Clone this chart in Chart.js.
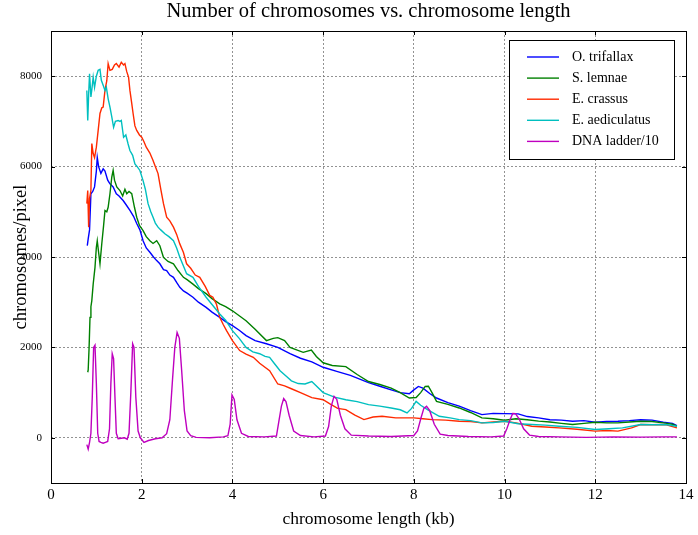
<!DOCTYPE html>
<html>
<head>
<meta charset="utf-8">
<script src="https://cdn.jsdelivr.net/npm/chart.js@4"></script>
<style>
  body { margin: 0; background: #fff; }
</style>
</head>
<body>
<canvas id="myChart" width="698" height="535"></canvas>
<script>
// chromosome length (kb) / chromosomes per pixel
const blueX = [0.80,0.82,0.85,0.88,0.92,0.96,1.00,1.02,1.05,1.10,1.15,1.19,1.25,1.30,1.37,1.44,1.50,1.59,1.66,1.74,1.82,1.89,1.96,2.03,2.10,2.18,2.26,2.33,2.40,2.48,2.55,2.62,2.70,2.78,2.84,2.92,3.00,3.13,3.25,3.42,3.55,3.72,3.85,4.00,4.15,4.30,4.50,4.75,5.00,5.27,5.50,5.75,6.00,6.30,6.60,7.00,7.25,7.50,7.70,7.90,8.00,8.10,8.20,8.35,8.50,8.75,9.00,9.25,9.50,9.75,10.00,10.30,10.50,10.75,11.00,11.25,11.50,11.75,12.00,12.25,12.50,12.75,13.00,13.25,13.50,13.70,13.80];
const blueY = [4250,4400,4600,5400,5450,5550,5900,6200,6000,5850,5950,5900,5700,5620,5550,5400,5350,5250,5150,5030,4900,4740,4600,4360,4200,4105,4000,3920,3850,3720,3700,3600,3550,3420,3330,3250,3200,3110,3000,2885,2780,2665,2570,2480,2380,2260,2150,2080,2000,1860,1760,1680,1560,1470,1380,1220,1140,1060,1000,975,1060,1136,1100,980,880,780,700,600,513,540,535,530,470,440,400,390,367,380,345,360,367,380,400,390,345,320,270];

const greenX = [0.81,0.82,0.84,0.86,0.88,0.90,0.93,0.97,1.00,1.02,1.05,1.08,1.12,1.16,1.19,1.23,1.26,1.30,1.34,1.37,1.40,1.45,1.52,1.58,1.63,1.67,1.72,1.78,1.84,1.89,1.95,2.03,2.10,2.18,2.25,2.33,2.40,2.48,2.58,2.70,2.80,2.92,3.00,3.13,3.25,3.42,3.55,3.72,3.85,4.00,4.15,4.30,4.50,4.75,4.90,5.00,5.15,5.27,5.40,5.56,5.74,5.85,6.00,6.20,6.50,6.75,7.00,7.25,7.50,7.70,7.90,8.05,8.15,8.25,8.32,8.40,8.50,8.75,9.00,9.25,9.50,9.75,10.00,10.25,10.50,10.75,11.00,11.25,11.50,11.75,12.00,12.25,12.50,12.75,13.00,13.25,13.50,13.70,13.80];
const greenY = [1450,1500,2000,2665,2900,3035,3400,3770,4215,4360,4100,3850,4300,4700,5030,5000,5100,5400,5765,5915,5700,5550,5470,5350,5500,5400,5450,5400,5100,4880,4700,4585,4450,4360,4300,4360,4250,3990,3900,3850,3700,3550,3500,3400,3300,3190,3080,2965,2900,2810,2700,2590,2400,2150,2200,2215,2150,2000,1950,1890,1940,1800,1660,1600,1576,1400,1246,1180,1100,1000,880,890,1000,1136,1140,1000,806,740,660,560,440,420,388,420,400,370,350,320,293,320,345,330,330,350,367,360,330,300,257];

const redX = [0.79,0.81,0.83,0.85,0.88,0.90,0.93,0.96,1.00,1.04,1.08,1.12,1.15,1.19,1.23,1.26,1.30,1.35,1.40,1.44,1.50,1.55,1.60,1.63,1.67,1.71,1.74,1.78,1.81,1.85,1.89,1.95,2.00,2.05,2.10,2.18,2.25,2.30,2.36,2.42,2.48,2.55,2.62,2.70,2.77,2.84,2.92,2.99,3.08,3.18,3.28,3.40,3.50,3.57,3.65,3.72,3.80,3.87,4.00,4.16,4.30,4.46,4.60,4.82,5.00,5.15,5.30,5.50,5.75,6.00,6.15,6.32,6.50,6.70,6.90,7.10,7.30,7.60,8.00,8.20,8.40,8.70,9.00,9.25,9.50,9.75,10.00,10.25,10.60,10.90,11.20,11.60,12.00,12.25,12.50,12.80,13.00,13.25,13.55,13.80];
const redY = [5180,5470,4660,5300,5470,6510,6290,6200,6430,6800,7175,7300,7315,7685,7900,8280,8130,8150,8250,8280,8200,8310,8250,8280,8100,7980,7685,7400,7175,6900,6800,6700,6650,6550,6430,6300,6135,6000,5845,5500,5180,4880,4800,4660,4500,4290,4100,3850,3750,3600,3550,3350,3150,3110,2950,2665,2500,2370,2150,1930,1850,1780,1650,1485,1190,1150,1085,1000,890,843,750,650,623,500,403,460,476,440,440,420,403,390,367,360,330,350,367,330,257,240,220,190,147,160,147,220,293,290,293,220];

const cyanX = [0.79,0.81,0.83,0.85,0.88,0.90,0.93,0.96,1.00,1.04,1.08,1.11,1.15,1.19,1.22,1.26,1.30,1.34,1.38,1.42,1.48,1.52,1.55,1.60,1.65,1.70,1.74,1.80,1.85,1.90,1.96,2.03,2.08,2.14,2.20,2.25,2.30,2.36,2.42,2.51,2.60,2.70,2.77,2.84,2.92,2.99,3.13,3.25,3.42,3.55,3.72,3.85,4.00,4.15,4.30,4.45,4.60,4.72,4.82,4.92,5.05,5.20,5.30,5.45,5.60,5.75,6.00,6.25,6.50,6.75,7.00,7.25,7.50,7.70,7.85,7.95,8.05,8.15,8.30,8.56,8.80,9.00,9.25,9.50,9.75,10.00,10.30,10.60,10.90,11.20,11.60,12.00,12.30,12.60,13.00,13.30,13.55,13.80];
const cyanY = [7685,7020,7600,8055,7540,7700,7980,7750,8000,8130,8150,7910,7800,7685,7760,7500,7315,7100,6870,7000,7020,7000,7020,6650,6700,6500,6355,6250,6060,6000,5915,5690,5500,5180,5000,4880,4750,4660,4600,4515,4450,4360,4200,3995,3800,3630,3550,3350,3110,2950,2740,2600,2370,2200,2000,1900,1860,1800,1780,1650,1485,1350,1260,1200,1190,1246,1000,900,843,800,733,700,660,620,550,650,806,720,623,476,440,403,380,330,340,367,310,293,280,257,230,183,200,220,293,290,293,257];

const ladderX = [0.79,0.82,0.85,0.88,0.91,0.94,0.97,1.00,1.03,1.06,1.10,1.15,1.20,1.25,1.29,1.32,1.35,1.38,1.41,1.44,1.48,1.55,1.62,1.68,1.72,1.76,1.80,1.83,1.87,1.92,1.97,2.05,2.15,2.30,2.45,2.55,2.62,2.68,2.73,2.78,2.83,2.88,2.94,3.00,3.08,3.20,3.50,3.80,3.90,3.95,3.99,4.04,4.10,4.20,4.35,4.70,4.97,5.03,5.08,5.13,5.18,5.25,5.35,5.50,5.80,6.05,6.12,6.18,6.24,6.30,6.38,6.48,6.62,7.00,7.50,8.00,8.08,8.16,8.22,8.28,8.35,8.45,8.58,8.75,9.20,9.70,9.98,10.05,10.12,10.18,10.24,10.32,10.42,10.55,10.75,11.20,11.80,12.40,13.00,13.50,13.80];
const ladderY = [-150,-250,-100,100,900,2000,2050,1200,100,-80,-100,-120,-100,-80,200,1200,1860,1750,900,100,-20,-10,0,-30,100,1000,2080,2000,900,150,0,-100,-60,-20,0,90,400,1300,2000,2330,2200,1500,600,150,45,10,0,20,45,300,950,850,400,100,30,20,40,400,700,870,800,500,150,50,20,40,250,700,916,850,500,200,58,40,30,50,150,450,650,696,600,300,80,50,30,20,40,200,400,540,535,420,200,60,30,20,10,20,15,20,20];

const seriesLabels = ["O. trifallax", "S. lemnae", "E. crassus", "E. aediculatus", "DNA ladder/10"];
const xTicks = [0, 2, 4, 6, 8, 10, 12, 14];
const yTicks = [0, 2000, 4000, 6000, 8000];

const colors = ["#0000ff", "#008000", "#ff2a00", "#00bfbf", "#bf00bf"];
const SERIF = "'Liberation Serif', 'DejaVu Serif', serif";

function pts(xs, ys) {
	return xs.map((x, i) => ({x: x, y: ys[i]}));
}

const allX = [blueX, greenX, redX, cyanX, ladderX];
const allY = [blueY, greenY, redY, cyanY, ladderY];

const datasets = seriesLabels.map((label, i) => ({
	label: label,
	data: pts(allX[i], allY[i]),
	borderColor: colors[i],
	backgroundColor: colors[i],
	borderWidth: 1.4,
	pointRadius: 0,
	tension: 0,
	fill: false,
	order: 5 - i,
}));

// frame with inward ticks, plus the title centred over the plot
const framePlugin = {
	id: "frame",
	afterDatasetsDraw(chart) {
		const {ctx, chartArea: a, scales} = chart;
		ctx.save();
		ctx.setLineDash([]);
		ctx.strokeStyle = "#000";
		ctx.lineWidth = 1;
		ctx.strokeRect(a.left + 0.5, a.top + 0.5, a.right - a.left, a.bottom - a.top);
		const len = 4;
		ctx.beginPath();
		xTicks.forEach(v => {
			const px = Math.round(scales.x.getPixelForValue(v)) + 0.5;
			ctx.moveTo(px, a.bottom); ctx.lineTo(px, a.bottom - len);
			ctx.moveTo(px, a.top); ctx.lineTo(px, a.top + len);
		});
		yTicks.forEach(v => {
			const py = Math.round(scales.y.getPixelForValue(v)) + 0.5;
			ctx.moveTo(a.left, py); ctx.lineTo(a.left + len, py);
			ctx.moveTo(a.right, py); ctx.lineTo(a.right - len, py);
		});
		ctx.stroke();

		ctx.fillStyle = "#000";
		ctx.font = "20.5px " + SERIF;
		ctx.textAlign = "center";
		ctx.textBaseline = "middle";
		ctx.fillText("Number of chromosomes vs. chromosome length", (a.left + a.right) / 2, 12);
		ctx.restore();
	}
};

// legend box inside the plot, upper right
const boxLegend = {
	id: "boxLegend",
	afterDraw(chart) {
		const ctx = chart.ctx;
		const x0 = 509.5, y0 = 40.5, w = 165, h = 119;
		ctx.save();
		ctx.setLineDash([]);
		ctx.fillStyle = "#fff";
		ctx.fillRect(x0, y0, w, h);
		ctx.strokeStyle = "#000";
		ctx.lineWidth = 1;
		ctx.strokeRect(x0, y0, w, h);
		ctx.font = "14px " + SERIF;
		ctx.textBaseline = "middle";
		chart.data.datasets.forEach((ds, i) => {
			const y = 57 + i * 21.1;
			ctx.strokeStyle = ds.borderColor;
			ctx.lineWidth = 1.4;
			ctx.beginPath();
			ctx.moveTo(527, y); ctx.lineTo(559, y);
			ctx.stroke();
			ctx.fillStyle = "#000";
			ctx.fillText(ds.label, 572, y);
		});
		ctx.restore();
	}
};

const ctx = document.getElementById("myChart").getContext("2d");

new Chart(ctx, {
	type: "line",
	data: {datasets: datasets},
	options: {
		responsive: false,
		animation: false,
		layout: {padding: {left: 0, right: 12, top: 31, bottom: 0}},
		plugins: {
			legend: {display: false},
			tooltip: {enabled: false},
		},
		scales: {
			x: {
				type: "linear",
				min: 0,
				max: 14,
				afterBuildTicks: s => { s.ticks = xTicks.map(v => ({value: v})); },
				afterFit: s => { s.height = 52; },
				ticks: {color: "#000", font: {family: SERIF, size: 15}, padding: 3, maxRotation: 0},
				grid: {color: "#777", lineWidth: 0.8, tickLength: 0, drawTicks: false},
				border: {display: false, dash: [2, 2]},
				title: {
					display: true,
					text: "chromosome length (kb)",
					color: "#000",
					font: {family: SERIF, size: 17.5},
					padding: {top: 0, bottom: 5},
				},
			},
			y: {
				type: "linear",
				min: -1000,
				max: 9000,
				afterBuildTicks: s => { s.ticks = yTicks.map(v => ({value: v})); },
				afterFit: s => { s.width = 51; },
				ticks: {color: "#000", font: {family: SERIF, size: 11}, padding: 9, callback: v => String(v)},
				grid: {color: "#777", lineWidth: 0.8, tickLength: 0, drawTicks: false},
				border: {display: false, dash: [2, 2]},
				title: {
					display: true,
					text: "chromosomes/pixel",
					color: "#000",
					font: {family: SERIF, size: 18.5},
					padding: {top: 10, bottom: 0},
				},
			},
		},
	},
	plugins: [framePlugin, boxLegend],
});
</script>
</body>
</html>
